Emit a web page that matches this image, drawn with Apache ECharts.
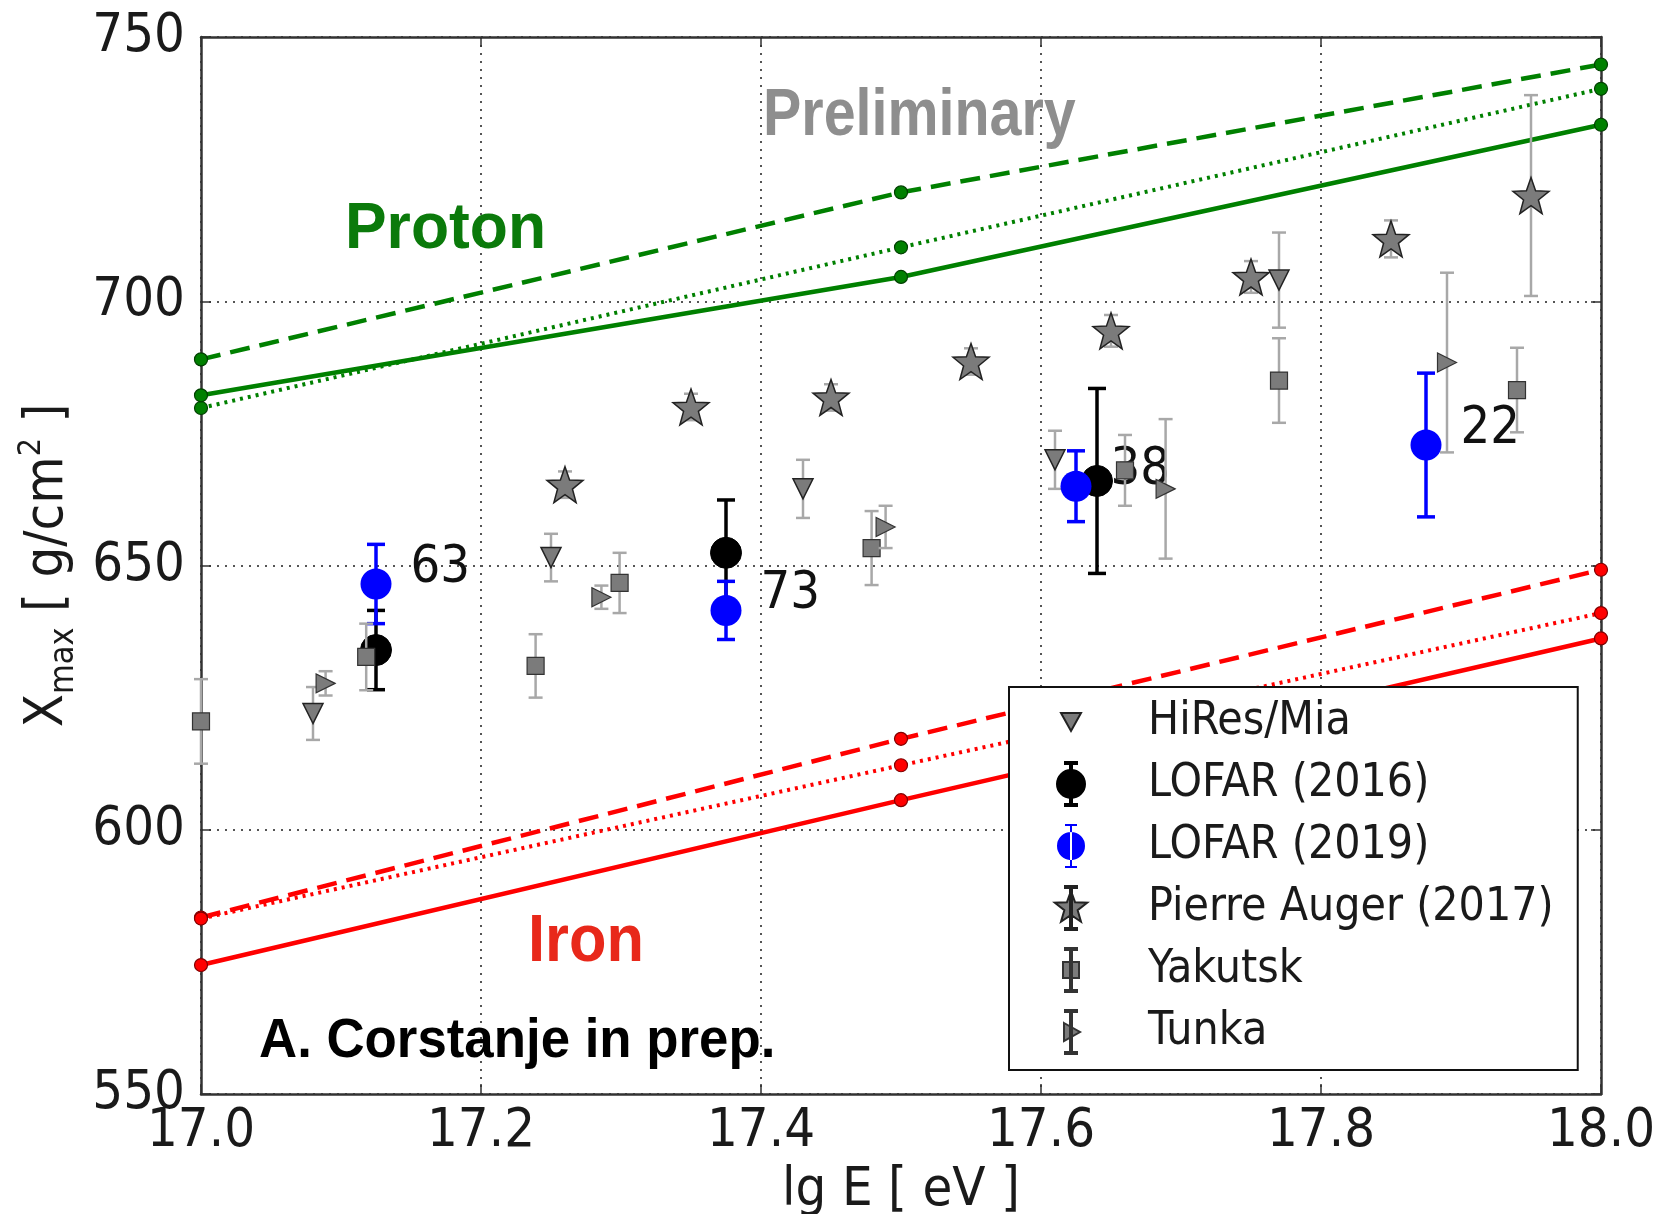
<!DOCTYPE html>
<html><head><meta charset="utf-8">
<script src="https://cdn.jsdelivr.net/npm/echarts@6/dist/echarts.min.js"></script>
<style>html,body{margin:0;padding:0;background:#fff}#c{width:1657px;height:1214px}</style>
</head><body><div id="c"></div>
<script>
// ---- axis ticks ----
const xTicks = [17.0, 17.2, 17.4, 17.6, 17.8, 18.0];
const yTicks = [550, 600, 650, 700, 750];

// ---- model lines (Proton / Iron) ----
const modelX = [17.0, 17.5, 18.0];
const protonDashed = [689.0, 720.6, 744.8];
const protonDotted = [679.8, 710.2, 740.2];
const protonSolid  = [682.2, 704.6, 733.4];
const ironDashed   = [583.4, 617.2, 649.2];
const ironDotted   = [583.2, 612.2, 641.0];
const ironSolid    = [574.4, 605.6, 636.2];

// ---- measurements ----
const hiresX = [17.08, 17.25, 17.43, 17.61, 17.77];
const hiresY = [622.0, 651.5, 664.5, 670.0, 704.0];
const hiresE = [5.0, 4.5, 5.5, 5.5, 9.0];

const lofar16X = [17.125, 17.375, 17.64];
const lofar16Y = [634.0, 652.4, 666.0];
const lofar16E = [7.5, 10.0, 17.5];

const lofar19X = [17.125, 17.375, 17.625, 17.875];
const lofar19Y = [646.5, 641.5, 665.0, 672.8];
const lofar19E = [7.5, 5.5, 6.7, 13.6];
const lofar19N = ['63', '73', '38', '22'];

const augerX = [17.26, 17.35, 17.45, 17.55, 17.65, 17.75, 17.85, 17.95];
const augerY = [665.3, 680.0, 681.8, 688.6, 694.4, 704.6, 711.8, 720.0];
const augerE = [2.5, 2.5, 2.5, 2.5, 3.0, 3.0, 3.5, 19.0];

const yakutskX = [17.0, 17.118, 17.239, 17.299, 17.479, 17.66, 17.77, 17.94];
const yakutskY = [620.5, 632.7, 631.0, 646.7, 653.3, 668.0, 685.0, 683.2];
const yakutskE = [8.0, 6.3, 6.0, 5.7, 7.0, 6.7, 8.0, 8.0];

const tunkaX = [17.089, 17.286, 17.489, 17.689, 17.89];
const tunkaY = [627.7, 644.0, 657.3, 664.5, 688.4];
const tunkaE = [2.3, 2.2, 4.0, 13.2, 17.0];

// ---- styling ----
const COND = '"DejaVu Sans Condensed", "DejaVu Sans", sans-serif';
const BOLD = '"Liberation Sans", Arial, sans-serif';
const GREEN = '#008000', RED = '#ff0000';
const GRAYM = '#7b7b7b', GRAYE = '#a8a8a8';

const starPath = 'path://M20,5L24.11,16.34L36.17,16.75L26.66,24.16L29.99,35.75L20,29L10.01,35.75L13.34,24.16L3.83,16.75L15.89,16.34Z';
const BOX = 'M0,0M40,44';
const BAR = 'M19,1L21,1L21,43L19,43Z M14,0L26,0L26,2L14,2Z M14,42L26,42L26,44L14,44Z';
const icons = {
  hires: 'path://' + BOX + ' M10,13L30,13L20,31Z',
  lofar: 'path://' + BOX + ' ' + BAR + ' M6,22A14,14 0 1,0 34,22A14,14 0 1,0 6,22Z',
  auger: 'path://' + BOX + ' ' + BAR + ' M20,5L24.11,16.34L36.17,16.75L26.66,24.16L29.99,35.75L20,29L10.01,35.75L13.34,24.16L3.83,16.75L15.89,16.34Z',
  yak: 'path://' + BOX + ' ' + BAR + ' M12,14L28,14L28,30L12,30Z',
  tunka: 'path://' + BOX + ' ' + BAR + ' M13,13L29,22L13,31Z'
};

function errBars(name, xs, ys, es, color, lw, cap, z) {
  return {
    type: 'custom', name: name + ' err', z: z, silent: true,
    data: xs.map((x, i) => [x, ys[i] - es[i], ys[i] + es[i]]),
    encode: {x: 0, y: [1, 2]},
    renderItem: function (params, api) {
      const lo = api.coord([api.value(0), api.value(1)]);
      const hi = api.coord([api.value(0), api.value(2)]);
      const st = {stroke: color, lineWidth: lw};
      return {type: 'group', children: [
        {type: 'line', shape: {x1: lo[0], y1: lo[1], x2: hi[0], y2: hi[1]}, style: st},
        {type: 'line', shape: {x1: lo[0] - cap, y1: lo[1], x2: lo[0] + cap, y2: lo[1]}, style: st},
        {type: 'line', shape: {x1: hi[0] - cap, y1: hi[1], x2: hi[0] + cap, y2: hi[1]}, style: st}
      ]};
    }
  };
}
function pts(name, xs, ys, symbol, size, color, border, bw, z, extra) {
  return Object.assign({
    type: 'scatter', name: name, z: z, symbol: symbol, symbolSize: size,
    data: xs.map((x, i) => [x, ys[i]]),
    itemStyle: {color: color, borderColor: border, borderWidth: bw, opacity: 1},
    emphasis: {disabled: true}
  }, extra || {});
}
function model(ys, color, edge, type, width) {
  return {
    type: 'line', data: modelX.map((x, i) => [x, ys[i]]), z: 2, silent: true,
    symbol: 'circle', symbolSize: 13, showSymbol: true,
    itemStyle: {color: color, borderColor: edge, borderWidth: 1.2},
    lineStyle: {color: color, width: width, type: type}
  };
}

const axisCommon = {
  type: 'value',
  axisLine: {show: true, onZero: false, lineStyle: {color: '#333', width: 2.5}},
  axisTick: {show: true, inside: true, length: 10, lineStyle: {color: '#333', width: 1.5}}
};

const option = {
  animation: false,
  backgroundColor: '#fff',
  grid: {left: 201, right: 56, top: 37, bottom: 120, containLabel: false, outerBoundsMode: 'none'},
  xAxis: [
    Object.assign({}, axisCommon, {
      position: 'bottom', min: xTicks[0], max: xTicks[xTicks.length - 1], interval: 0.2,
      name: 'lg E [ eV ]', nameLocation: 'middle', nameGap: 70,
      nameTextStyle: {fontFamily: COND, fontSize: 54, color: '#1a1a1a'},
      axisLabel: {fontFamily: COND, fontSize: 54, color: '#1a1a1a', margin: 11,
        formatter: v => v.toFixed(1)},
      splitLine: {show: true, lineStyle: {type: [2, 6], color: '#555', width: 2}}
    }),
    Object.assign({}, axisCommon, {
      position: 'top', min: xTicks[0], max: xTicks[xTicks.length - 1], interval: 0.2,
      axisLabel: {show: false}, splitLine: {show: false}
    })
  ],
  yAxis: [
    Object.assign({}, axisCommon, {
      position: 'left', min: yTicks[0], max: yTicks[yTicks.length - 1], interval: 50,
      name: '{a|X}{b|max}{a| [ g/cm}{c|2}{a| ]}', nameLocation: 'middle', nameGap: 115, nameRotate: 90,
      nameTextStyle: {
        fontFamily: COND, fontSize: 54, color: '#1a1a1a',
        rich: {
          a: {fontFamily: COND, fontSize: 54, color: '#1a1a1a', lineHeight: 66, verticalAlign: 'middle'},
          b: {fontFamily: COND, fontSize: 34, color: '#1a1a1a', lineHeight: 66, verticalAlign: 'bottom'},
          c: {fontFamily: COND, fontSize: 32, color: '#1a1a1a', lineHeight: 66, verticalAlign: 'top'}
        }
      },
      axisLabel: {fontFamily: COND, fontSize: 54, color: '#1a1a1a', margin: 16},
      splitLine: {show: true, lineStyle: {type: [2, 6], color: '#555', width: 2}}
    }),
    Object.assign({}, axisCommon, {
      position: 'right', min: yTicks[0], max: yTicks[yTicks.length - 1], interval: 50,
      axisLabel: {show: false}, splitLine: {show: false}
    })
  ],
  legend: {
    orient: 'vertical', left: 1009, top: 687, z: 50, selectedMode: false,
    padding: [10, 24, 13, 41], itemGap: 12, itemWidth: 40, itemHeight: 44,
    backgroundColor: '#fff', borderColor: '#111', borderWidth: 2, borderRadius: 0,
    textStyle: {fontFamily: COND, fontSize: 46, color: '#1a1a1a', lineHeight: 50, padding: [0, 0, 0, 52]},
    data: [
      {name: 'HiRes/Mia', icon: icons.hires},
      {name: 'LOFAR (2016)', icon: icons.lofar},
      {name: 'LOFAR (2019)', icon: icons.lofar},
      {name: 'Pierre Auger (2017)', icon: icons.auger},
      {name: 'Yakutsk', icon: icons.yak},
      {name: 'Tunka', icon: icons.tunka}
    ]
  },
  graphic: [
    {type: 'text', x: 763, y: 117, scaleX: 0.87, z: 30, silent: true,
      style: {text: 'Preliminary', font: 'bold 66px ' + BOLD, fill: '#8e8e8e',
        align: 'left', verticalAlign: 'middle', textAlign: 'left', textVerticalAlign: 'middle'}},
    {type: 'text', x: 345, y: 230, scaleX: 0.96, z: 30, silent: true,
      style: {text: 'Proton', font: 'bold 65px ' + BOLD, fill: '#0b7a0b',
        align: 'left', verticalAlign: 'middle', textAlign: 'left', textVerticalAlign: 'middle'}},
    {type: 'text', x: 528, y: 943, scaleX: 0.93, z: 30, silent: true,
      style: {text: 'Iron', font: 'bold 66px ' + BOLD, fill: '#e8281a',
        align: 'left', verticalAlign: 'middle', textAlign: 'left', textVerticalAlign: 'middle'}},
    {type: 'text', x: 259, y: 1042, scaleX: 0.96, z: 30, silent: true,
      style: {text: 'A. Corstanje in prep.', font: 'bold 55px ' + BOLD, fill: '#000',
        align: 'left', verticalAlign: 'middle', textAlign: 'left', textVerticalAlign: 'middle'}}
  ],
  series: [
    model(protonDashed, GREEN, '#004000', [20, 10], 4.5),
    model(protonDotted, GREEN, '#004000', [3, 5], 4),
    model(protonSolid, GREEN, '#004000', 'solid', 4.5),
    model(ironDashed, RED, '#800000', [20, 10], 4.5),
    model(ironDotted, RED, '#800000', [3, 5], 4),
    model(ironSolid, RED, '#800000', 'solid', 4.5),

    errBars('HiRes/Mia', hiresX, hiresY, hiresE, GRAYE, 2.5, 7, 3),
    pts('HiRes/Mia', hiresX, hiresY, 'triangle', 20, GRAYM, '#222', 1.5, 4, {symbolRotate: 180}),

    errBars('LOFAR (2016)', lofar16X, lofar16Y, lofar16E, '#000', 3.5, 9, 5),
    pts('LOFAR (2016)', lofar16X, lofar16Y, 'circle', 31, '#000', '#000', 1, 6),

    errBars('LOFAR (2019)', lofar19X, lofar19Y, lofar19E, '#0000ff', 3.5, 9, 7),
    pts('LOFAR (2019)', lofar19X, lofar19Y, 'circle', 31, '#0000ff', '#0000ff', 0, 8, {
      label: {show: true, position: 'right', distance: 19, offset: [0, -16],
        formatter: p => lofar19N[p.dataIndex],
        fontFamily: COND, fontSize: 52, color: '#111'}
    }),

    errBars('Pierre Auger (2017)', augerX, augerY, augerE, GRAYE, 2.5, 7, 9),
    pts('Pierre Auger (2017)', augerX, augerY, starPath, 36, GRAYM, '#222', 1.5, 10),

    errBars('Yakutsk', yakutskX, yakutskY, yakutskE, GRAYE, 2.5, 7, 11),
    pts('Yakutsk', yakutskX, yakutskY, 'rect', 17, GRAYM, '#333', 1.2, 12),

    errBars('Tunka', tunkaX, tunkaY, tunkaE, GRAYE, 2.5, 7, 13),
    pts('Tunka', tunkaX, tunkaY, 'triangle', 19, GRAYM, '#333', 1.2, 14, {symbolRotate: -90})
  ]
};

const chart = echarts.init(document.getElementById('c'), null, {renderer: 'canvas'});
chart.setOption(option);
</script>
</body></html>
